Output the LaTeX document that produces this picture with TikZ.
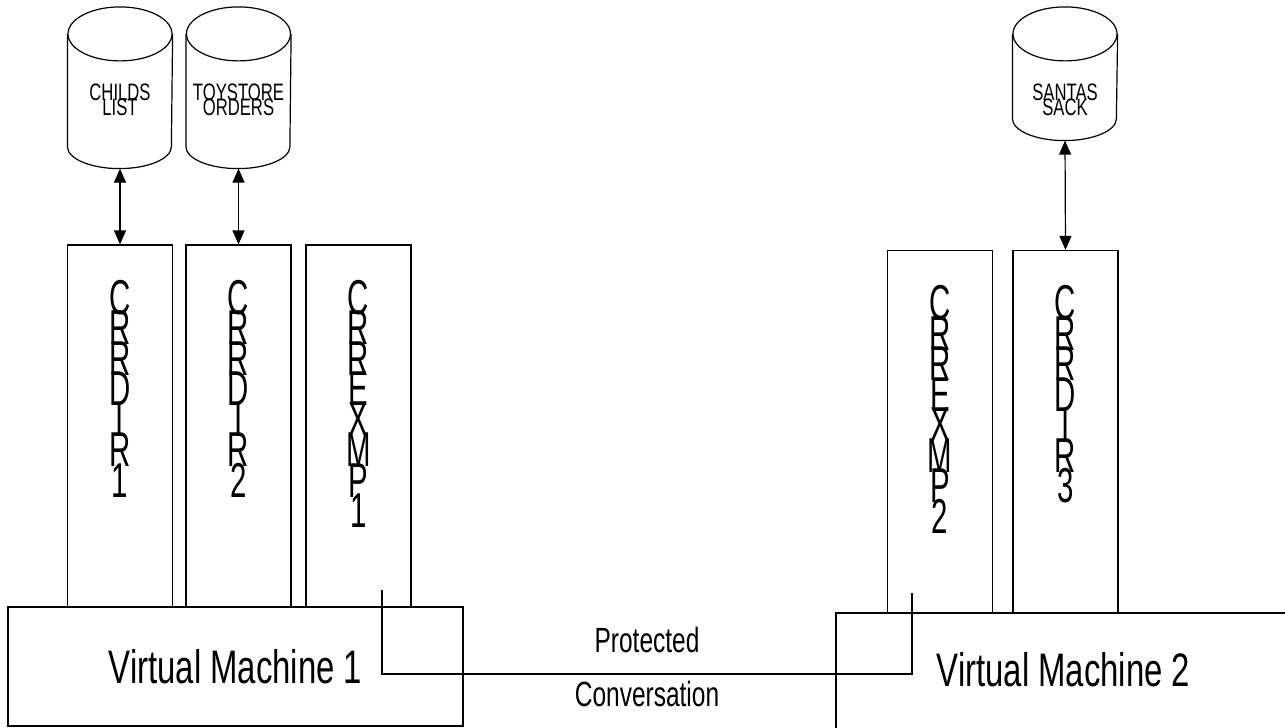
\documentclass[tikz,border=0pt]{standalone}
\usepackage{fontspec}
\setmainfont{Liberation Sans}[FakeStretch=0.7]
\newfontfamily\colfont{Liberation Sans}[FakeStretch=0.6]
\usetikzlibrary{positioning, arrows.meta}
\newcommand\tightlines{\lineskiplimit=-100pt\relax}

\begin{document}
\begin{tikzpicture}[x=0.5pt, y=-0.5pt, line width=0.6pt, >={Triangle[length=7pt, width=6pt]},
    db/.style={minimum width=52pt, inner sep=0pt},
    dbtext/.style={align=center, inner sep=0pt,
        font=\fontsize{11.9}{7.5}\selectfont\tightlines},
    col/.style={draw, minimum width=52.5pt, minimum height=181pt, inner sep=0pt},
    coltext/.style={inner sep=0pt, align=center,
        font=\colfont\fontsize{24.5}{15.25}\selectfont\tightlines},
    vm/.style={draw, minimum width=227.5pt, minimum height=59.5pt, font=\fontsize{23.5}{28}\selectfont},
    conv/.style={font=\fontsize{17.5}{20}\selectfont, inner sep=0pt}]
    \useasboundingbox (0,0) rectangle (1285,728);

    \node[db, minimum height=55.75pt, label={[dbtext, yshift=-5pt]center:{CHILDS\\LIST}}] (d1) at (120,90.25) {};
    \node[db, minimum height=55.75pt, label={[dbtext, yshift=-5pt]center:{TOYSTORE\\ORDERS}}] (d2) at (238.5,90.25) {};
    \node[db, minimum height=41.75pt, label={[dbtext, yshift=-12pt]center:{SANTAS\\SACK}}] (d3) at (1065,76.25) {};
    \foreach \d in {d1,d2,d3} {
        \draw (\d.north) ellipse [x radius=26pt, y radius=13.5pt];
        \draw (\d.north west) -- (\d.south west) arc [start angle=180, end angle=360, x radius=26pt, y radius=11pt] -- (\d.north east);
    }

    \node[col] (c1) at (120,426) {};
    \node[col] (c2) at (238.5,426) {};
    \node[col] (c3) at (358.5,426) {};
    \node[col] (c4) at (940,431.5) {};
    \node[col] (c5) at (1065.5,431.5) {};

    \node[coltext, below=17.5pt of c1.north] (t1) {C\\R\\R\\D\\I\\R\\1};
    \node[coltext, below=17.5pt of c2.north] (t2) {C\\R\\R\\D\\I\\R\\2};
    \node[coltext, below=17.5pt of c3.north] (t3) {C\\R\\R\\E\\X\\M\\P\\1};
    \node[coltext, below=17.5pt of c4.north] (t4) {C\\R\\R\\E\\X\\M\\P\\2};
    \node[coltext, below=17.5pt of c5.north] (t5) {C\\R\\R\\D\\I\\R\\3};

    \node[vm] (vm1) at (235.5,666.5) {Virtual Machine 1};
    \node[vm, text depth=3pt] (vm2) at (1063.5,672.5) {Virtual Machine 2};

    \draw[<->] ([yshift=-11pt]d1.south) -- (c1.north);
    \draw[<->] ([yshift=-11pt]d2.south) -- (c2.north);
    \draw[<->] ([yshift=-11pt]d3.south) -- (c5.north);

    \coordinate (p1) at (382,590);
    \coordinate (p2) at (912,593);
    \draw (p1) -- (p1 |- 0,674) -- node[conv, above=10.5pt] (lab1) {Protected}
        node[conv, below=3.5pt] (lab2) {Conversation} (p2 |- 0,674) -- (p2);
\end{tikzpicture}
\end{document}
